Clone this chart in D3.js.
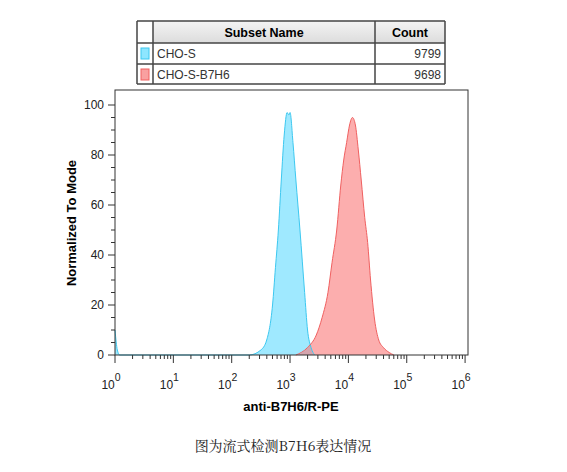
<!DOCTYPE html>
<html><head><meta charset="utf-8">
<script src="https://cdn.jsdelivr.net/npm/d3@7"></script>
<style>body{margin:0;background:#fff}svg{display:block}</style>
</head><body><div id="chart"></div>
<script>
// histogram outlines, [log10 intensity, % of mode]
const cyanData = [[0,10],[0.04,2],[0.08,0],[2.3,0],[2.5,2],[2.6,6],[2.7,20],[2.75,35],[2.8,50],[2.85,70],[2.9,88],[2.95,97],[2.98,96],[3.0,97],[3.05,85],[3.1,70],[3.17,50],[3.25,25],[3.3,10],[3.36,3],[3.42,0],[6.05,0]];
const redData = [[0,0],[3.1,0],[3.3,3],[3.45,8],[3.55,15],[3.65,25],[3.72,37],[3.8,50],[3.87,68],[3.92,78],[3.97,85],[4.02,92],[4.07,95],[4.12,92],[4.17,82],[4.22,70],[4.28,55],[4.33,45],[4.38,30],[4.45,14],[4.52,6],[4.6,3],[4.7,1],[4.78,0],[6.05,0]];
const subsets = ["CHO-S", "CHO-S-B7H6"];
const counts = ["9799", "9698"];
const yTicks = [0, 20, 40, 60, 80, 100];
const xDecades = [0, 1, 2, 3, 4, 5, 6];

const svg = d3.select("#chart").append("svg").attr("width", 567).attr("height", 472);
const x = d3.scaleLinear().domain([0, 6.05]).range([115, 468]);
const y = d3.scaleLinear().domain([0, 100]).range([355, 105]);
const g = svg.append("g");

const area = d3.area().x(d => x(d[0])).y0(y(0)).y1(d => y(d[1])).curve(d3.curveMonotoneX);
const line = d3.line().x(d => x(d[0])).y(d => y(d[1])).curve(d3.curveMonotoneX);
g.append("path").datum(cyanData).attr("d", area).attr("fill", "rgba(80,215,255,0.55)");
g.append("path").datum(redData).attr("d", area).attr("fill", "rgba(250,120,120,0.6)");
g.append("path").datum(cyanData.filter(d => d[1] > 0 || d[0] < 3.5)).attr("d", line).attr("fill", "none").attr("stroke", "#3cc8f0");
g.append("path").datum(redData.slice(1, -1)).attr("d", line).attr("fill", "none").attr("stroke", "#f06060");

// frame
svg.append("rect").attr("x", 115).attr("y", 90).attr("width", 353).attr("height", 265)
  .attr("fill", "none").attr("stroke", "#333").attr("stroke-width", 1);

// y axis
const ya = svg.append("g");
d3.range(0, 101, 5).forEach(v => {
  ya.append("line").attr("x1", 115).attr("x2", v % 20 === 0 ? 108 : 111)
    .attr("y1", y(v)).attr("y2", y(v)).attr("stroke", "#333");
});
ya.selectAll("text.yt").data(yTicks).enter().append("text")
  .attr("x", 104).attr("y", d => y(d) + 4).attr("text-anchor", "end")
  .attr("font-family", "Liberation Sans, Arial").attr("font-size", 12).attr("fill", "#222").text(d => d);
svg.append("text").attr("transform", "translate(76,223) rotate(-90)").attr("text-anchor", "middle")
  .attr("font-family", "Liberation Sans, Arial").attr("font-weight", "bold").attr("font-size", 13)
  .text("Normalized To Mode");

// x axis
const xa = svg.append("g");
xDecades.forEach(dd => {
  xa.append("line").attr("x1", x(dd)).attr("x2", x(dd)).attr("y1", 355).attr("y2", 363).attr("stroke", "#333");
  if (dd < 6) d3.range(2, 10).forEach(m => {
    const v = dd + Math.log10(m);
    xa.append("line").attr("x1", x(v)).attr("x2", x(v)).attr("y1", 355).attr("y2", 359).attr("stroke", "#333");
  });
  const t = xa.append("text").attr("x", x(dd) - 4).attr("y", 389).attr("text-anchor", "middle")
    .attr("font-family", "Liberation Sans, Arial").attr("font-size", 12).attr("fill", "#222");
  t.append("tspan").text("10");
  t.append("tspan").attr("dy", -8).attr("font-size", 10.5).text(dd);
});
svg.append("text").attr("x", 291).attr("y", 411).attr("text-anchor", "middle")
  .attr("font-family", "Liberation Sans, Arial").attr("font-weight", "bold").attr("font-size", 13)
  .text("anti-B7H6/R-PE");

// legend table
const tb = svg.append("g");
const grad = svg.append("defs").append("linearGradient").attr("id", "hd").attr("x2", 0).attr("y2", 1);
grad.append("stop").attr("offset", 0).attr("stop-color", "#f4f4f4");
grad.append("stop").attr("offset", 1).attr("stop-color", "#dcdcdc");
tb.append("rect").attr("x", 153).attr("y", 21).attr("width", 292).attr("height", 22).attr("fill", "url(#hd)");
const rowsY = [21, 43, 64, 84];
rowsY.forEach(r => tb.append("line").attr("x1", 137).attr("x2", 445).attr("y1", r).attr("y2", r).attr("stroke", "#444").attr("stroke-width", 1.5));
[137, 153, 375, 445].forEach(c => tb.append("line").attr("x1", c).attr("x2", c).attr("y1", 21).attr("y2", 84).attr("stroke", "#444").attr("stroke-width", 1.5));
tb.append("text").attr("x", 264).attr("y", 37).attr("text-anchor", "middle").attr("font-family", "Liberation Sans, Arial")
  .attr("font-weight", "bold").attr("font-size", 12.5).text("Subset Name");
tb.append("text").attr("x", 410).attr("y", 37).attr("text-anchor", "middle").attr("font-family", "Liberation Sans, Arial")
  .attr("font-weight", "bold").attr("font-size", 12.5).text("Count");
const swFill = ["#8ee6ff", "#f9a0a0"], swStroke = ["#3cc8f0", "#f06060"];
subsets.forEach((s, i) => {
  const top = rowsY[i + 1];
  tb.append("rect").attr("x", 141).attr("y", top + 5).attr("width", 8).attr("height", 11)
    .attr("fill", swFill[i]).attr("stroke", swStroke[i]);
  tb.append("text").attr("x", 157).attr("y", top + 15).attr("font-family", "Liberation Sans, Arial")
    .attr("font-size", 12).attr("fill", "#333").text(s);
  tb.append("text").attr("x", 441).attr("y", top + 15).attr("text-anchor", "end").attr("font-family", "Liberation Sans, Arial")
    .attr("font-size", 12).attr("fill", "#333").text(counts[i]);
});

svg.append("text").attr("x", 283).attr("y", 451).attr("text-anchor", "middle")
  .attr("font-family", "Noto Serif CJK SC, serif").attr("font-size", 14).attr("fill", "#222")
  .text("图为流式检测B7H6表达情况");
</script></body></html>
